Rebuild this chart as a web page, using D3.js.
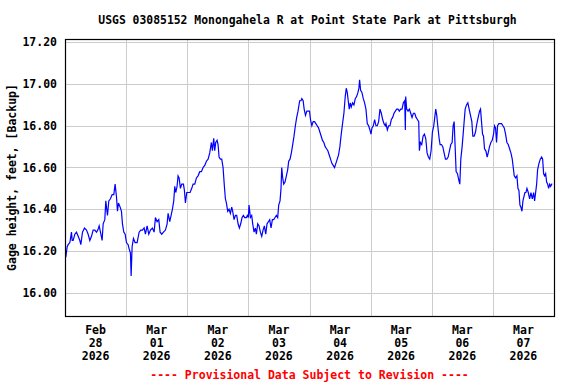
<!DOCTYPE html>
<html>
<head>
<meta charset="utf-8">
<script src="https://cdn.jsdelivr.net/npm/d3@7"></script>
<style>
  body { margin: 0; background: #fff; }
  text { font-family: "DejaVu Sans Mono", "Liberation Mono", monospace; font-weight: bold; }
</style>
</head>
<body>
<div id="chart"></div>
<script>
// dati: ore dall'inizio (28 feb 00:00) e altezza idrometrica
var hours = [0.33,0.85,1.24,1.90,2.55,2.81,3.20,3.86,4.51,5.17,5.82,6.21,6.87,7.65,8.44,9.09,9.74,10.40,11.05,11.71,
  12.36,12.88,13.41,13.93,14.58,14.98,15.63,16.02,16.68,17.20,17.85,18.51,19.16,19.68,20.21,20.60,20.99,21.65,22.17,22.56,
  23.08,23.61,24.13,24.79,25.18,25.70,25.96,26.35,26.88,27.53,28.32,29.10,29.75,30.41,31.06,31.58,32.24,32.89,33.55,34.33,
  34.99,35.51,36.17,36.82,37.34,38.00,38.65,39.43,40.09,40.48,41.13,41.66,42.18,42.70,43.10,43.49,44.01,44.40,44.80,45.32,
  45.84,46.50,46.89,47.28,47.81,48.46,49.11,49.77,50.29,50.95,51.60,52.25,52.91,53.56,54.22,54.87,55.52,56.18,56.83,57.48,
  57.88,58.40,58.79,59.18,59.71,60.10,60.49,61.02,61.54,62.06,62.58,62.97,63.37,63.89,64.41,64.94,65.46,65.85,66.38,66.90,
  67.42,67.95,68.47,68.99,69.52,70.04,70.56,71.22,71.61,72.00,72.26,72.79,73.31,73.70,74.23,74.75,75.14,75.67,76.19,76.71,
  77.24,77.76,78.28,78.81,79.33,79.85,80.38,80.90,81.42,81.95,82.47,82.99,83.51,83.91,84.43,84.82,85.09,85.48,85.87,86.39,
  86.92,87.44,87.83,88.35,88.88,89.40,89.92,90.45,90.97,91.49,92.14,92.67,92.98,93.51,93.90,94.43,94.95,95.48,96.00,96.39,
  96.92,97.44,97.97,98.49,99.02,99.54,100.07,100.59,101.11,101.64,102.16,102.69,103.21,103.74,104.26,104.79,105.31,105.84,106.36,106.89,
  107.41,107.93,108.46,108.98,109.51,110.03,110.43,110.82,111.21,111.61,112.00,112.39,112.92,113.44,113.97,114.49,115.02,115.41,115.67,116.07,
  116.59,117.12,117.64,118.16,118.69,119.21,119.74,120.13,120.53,121.05,121.57,122.10,122.62,123.15,123.67,124.20,124.72,125.25,125.77,126.03,
  126.56,127.08,127.61,128.13,128.66,129.18,129.71,130.23,130.76,131.28,131.80,132.33,132.85,133.38,133.64,133.77,134.16,134.69,135.21,135.74,
  136.26,136.79,137.31,137.84,138.36,138.89,139.15,139.54,140.07,140.59,141.12,141.64,142.16,142.69,143.21,143.74,144.26,144.79,145.18,145.57,
  145.97,146.36,146.89,147.28,147.80,148.33,148.85,149.38,149.90,150.43,150.95,151.48,152.00,152.39,152.79,153.18,153.57,154.10,154.62,155.02,
  155.41,155.93,156.33,156.72,157.12,157.64,158.17,158.69,159.21,159.74,160.13,160.66,161.18,161.71,162.23,162.76,163.15,163.54,163.94,164.33,
  164.72,165.25,165.77,166.16,166.69,167.21,167.74,168.26,168.66,169.05,169.44,169.84,170.36,170.89,171.41,171.94,172.46,172.98,173.51,174.03,
  174.56,175.08,175.61,176.00,176.39,176.92,177.44,177.84,178.23,178.62,179.02,179.41,179.80,180.20,180.59,180.98,181.38,181.90,182.43,182.95,
  183.48,184.00,184.39,184.79,185.18,185.57,186.10,186.62,187.15,187.54,187.93,188.33,188.72,189.11,189.51,189.90,190.30,190.69,191.08,191.34];

var gage = [16.17,16.22,16.23,16.24,16.29,16.25,16.25,16.28,16.29,16.27,16.25,16.23,16.29,16.31,16.30,16.28,16.25,16.27,16.30,16.30,
  16.29,16.30,16.32,16.29,16.25,16.33,16.35,16.44,16.37,16.44,16.45,16.47,16.47,16.52,16.46,16.39,16.43,16.41,16.39,16.33,
  16.29,16.28,16.24,16.23,16.21,16.19,16.08,16.22,16.26,16.24,16.24,16.29,16.30,16.30,16.31,16.28,16.32,16.28,16.30,16.31,
  16.29,16.36,16.34,16.35,16.29,16.28,16.29,16.30,16.33,16.38,16.34,16.37,16.40,16.44,16.51,16.48,16.51,16.56,16.55,16.50,
  16.52,16.52,16.49,16.43,16.48,16.48,16.48,16.50,16.52,16.52,16.55,16.56,16.58,16.58,16.60,16.61,16.63,16.64,16.67,16.72,
  16.68,16.74,16.68,16.72,16.73,16.71,16.65,16.64,16.64,16.60,16.51,16.45,16.43,16.39,16.40,16.38,16.41,16.39,16.35,16.37,
  16.37,16.33,16.31,16.33,16.36,16.37,16.36,16.36,16.37,16.36,16.42,16.36,16.37,16.33,16.29,16.31,16.28,16.33,16.32,16.29,
  16.27,16.30,16.32,16.28,16.33,16.34,16.35,16.31,16.35,16.35,16.36,16.37,16.36,16.42,16.44,16.50,16.60,16.55,16.52,16.53,
  16.56,16.59,16.63,16.64,16.67,16.71,16.75,16.80,16.84,16.87,16.92,16.92,16.93,16.92,16.88,16.85,16.87,16.87,16.87,16.83,
  16.80,16.82,16.82,16.81,16.80,16.79,16.77,16.75,16.73,16.72,16.70,16.69,16.68,16.66,16.64,16.62,16.61,16.60,16.62,16.64,
  16.66,16.70,16.76,16.81,16.86,16.94,16.98,16.96,16.92,16.88,16.91,16.89,16.91,16.90,16.93,16.94,16.96,16.98,17.02,16.97,
  16.96,16.93,16.91,16.88,16.81,16.80,16.78,16.76,16.79,16.80,16.83,16.80,16.80,16.82,16.88,16.86,16.83,16.81,16.80,16.81,
  16.78,16.80,16.80,16.83,16.84,16.86,16.87,16.88,16.88,16.87,16.88,16.88,16.91,16.92,16.78,16.94,16.88,16.87,16.88,16.86,
  16.84,16.86,16.86,16.84,16.83,16.82,16.68,16.72,16.71,16.75,16.76,16.74,16.67,16.65,16.64,16.68,16.77,16.80,16.84,16.88,
  16.85,16.80,16.74,16.71,16.71,16.70,16.67,16.64,16.64,16.65,16.68,16.71,16.72,16.80,16.82,16.70,16.58,16.57,16.54,16.52,
  16.64,16.70,16.76,16.82,16.88,16.90,16.91,16.88,16.85,16.82,16.75,16.75,16.77,16.81,16.84,16.87,16.88,16.82,16.76,16.75,
  16.69,16.68,16.65,16.67,16.70,16.72,16.73,16.76,16.80,16.79,16.72,16.80,16.81,16.81,16.81,16.80,16.79,16.76,16.72,16.71,
  16.69,16.67,16.64,16.60,16.56,16.55,16.56,16.50,16.49,16.42,16.41,16.39,16.44,16.46,16.48,16.48,16.50,16.48,16.45,16.48,
  16.45,16.48,16.44,16.48,16.52,16.59,16.62,16.64,16.65,16.64,16.57,16.56,16.57,16.53,16.52,16.50,16.52,16.51,16.52,16.52];

var yTicks = [16.00, 16.20, 16.40, 16.60, 16.80, 17.00, 17.20];
var yDomain = [15.888, 17.216];
var startDay = new Date(2026, 1, 28);
var endDay = new Date(2026, 2, 8);

var titleText = "USGS 03085152 Monongahela R at Point State Park at Pittsburgh";
var yLabelText = "Gage height, feet, [Backup]";
var footText = "---- Provisional Data Subject to Revision ----";

// margini e dimensioni
var W = 576, H = 384;
var margin = {top: 39, right: 22, bottom: 68, left: 65},
  width = W - margin.left - margin.right,
  height = H - margin.top - margin.bottom;

var svg = d3.select("#chart")
.append("svg")
  .attr("width", W)
  .attr("height", H);

svg.append("rect").attr("width", W).attr("height", H).attr("fill", "#fff");

var g = svg.append("g")
  .attr("transform", "translate(" + margin.left + "," + margin.top + ")");

// scale
var x = d3.scaleTime().domain([startDay, endDay]).range([0, width]);
var y = d3.scaleLinear().domain(yDomain).range([height, 0]);

var days = d3.timeDay.range(startDay, endDay);

// griglia verticale
g.selectAll(".vgrid")
  .data(days.slice(1))
  .enter().append("line")
    .attr("x1", function(d) { return Math.round(x(d)) + 0.5; })
    .attr("x2", function(d) { return Math.round(x(d)) + 0.5; })
    .attr("y1", 0)
    .attr("y2", height)
    .style("stroke", "#cccccc");

// griglia orizzontale
g.selectAll(".hgrid")
  .data(yTicks)
  .enter().append("line")
    .attr("x1", 0)
    .attr("x2", width)
    .attr("y1", function(d) { return Math.round(y(d)) + 0.5; })
    .attr("y2", function(d) { return Math.round(y(d)) + 0.5; })
    .style("stroke", "#cccccc");

// linea dati
var pts = hours.map(function(h, i) {
  return {t: new Date(startDay.getTime() + h * 3600000), v: gage[i]};
});
g.append("path")
  .datum(pts)
  .attr("fill", "none")
  .attr("stroke", "#0000ff")
  .attr("stroke-width", 1.2)
  .attr("d", d3.line()
    .x(function(d) { return x(d.t); })
    .y(function(d) { return y(d.v); }));

// bordo
g.append("rect")
  .attr("x", 0.5).attr("y", 0.5)
  .attr("width", width).attr("height", height)
  .attr("fill", "none")
  .attr("stroke", "#000")
  .attr("stroke-width", 1.2);

// etichette asse Y
g.selectAll(".ylab")
  .data(yTicks)
  .enter().append("text")
    .attr("x", -8)
    .attr("y", function(d) { return y(d); })
    .attr("dy", "0.35em")
    .attr("text-anchor", "end")
    .style("font-size", "11.5px")
    .text(function(d) { return d3.format(".2f")(d); });

// etichette asse X (tre righe)
var fmts = [d3.timeFormat("%b"), d3.timeFormat("%d"), d3.timeFormat("%Y")];
days.forEach(function(d) {
  var mid = d3.timeHour.offset(d, 12);
  fmts.forEach(function(f, i) {
    g.append("text")
      .attr("x", x(mid))
      .attr("y", height + 18 + i * 13)
      .attr("text-anchor", "middle")
      .style("font-size", "11.5px")
      .text(f(mid));
  });
});

// titolo
svg.append("text")
  .attr("x", margin.left + width / 2 - 2)
  .attr("y", 24)
  .attr("text-anchor", "middle")
  .style("font-size", "11.4px")
  .text(titleText);

// label asse Y
svg.append("text")
  .attr("transform", "translate(16," + (margin.top + height / 2) + ") rotate(-90)")
  .attr("text-anchor", "middle")
  .style("font-size", "11.5px")
  .text(yLabelText);

// nota provvisoria
svg.append("text")
  .attr("x", margin.left + width / 2)
  .attr("y", 379)
  .attr("text-anchor", "middle")
  .style("font-size", "11.5px")
  .style("fill", "#ff0000")
  .text(footText);
</script>
</body>
</html>
